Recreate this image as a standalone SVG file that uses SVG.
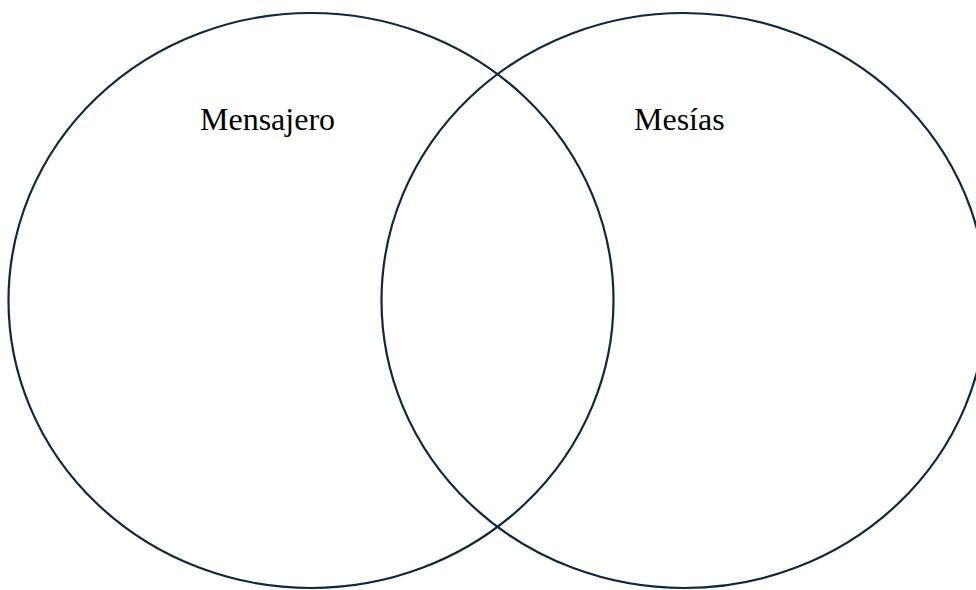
<svg xmlns="http://www.w3.org/2000/svg" width="976" height="590" viewBox="0 0 976 590">
<style>
.c{fill:none;stroke:#0E2841;stroke-width:2.2}
.t{font-family:"Liberation Serif",serif;font-size:32px;fill:#000}
</style>
<rect width="976" height="590" fill="#fff"/>
<g id="left"><ellipse class="c" cx="311" cy="300.5" rx="302.5" ry="287.5"/><text class="t" x="200" y="130">Mensajero</text></g>
<g id="right"><ellipse class="c" cx="684" cy="300.5" rx="302.5" ry="287.5"/><text class="t" x="634" y="130">Mesías</text></g>
<g id="connectors"/>
</svg>
